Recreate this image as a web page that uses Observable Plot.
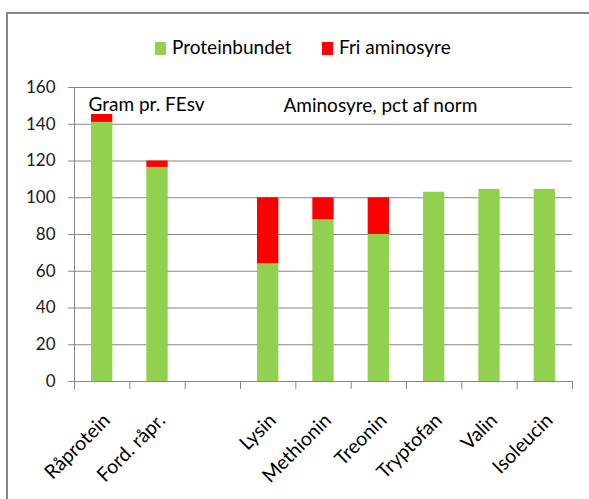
<!DOCTYPE html>
<html><head><meta charset="utf-8">
<script src="https://cdn.jsdelivr.net/npm/d3@7"></script>
<script src="https://cdn.jsdelivr.net/npm/@observablehq/plot@0.6"></script>
<style>
body{margin:0;background:#fff;font-family:Lato,sans-serif;}
#wrap{position:relative;width:589px;height:499px;overflow:hidden;background:#fff;}
#frame{position:absolute;left:6px;top:12px;width:640px;height:640px;border:2px solid #868686;box-sizing:border-box;}
#chart{position:absolute;left:0;top:0;}
#legend{position:absolute;left:0;top:36px;width:589px;font-size:19px;color:#000;font-family:Lato,sans-serif;}
.item{position:absolute;top:0;line-height:22px;white-space:nowrap;}
.sw{display:inline-block;width:11px;height:13px;margin-right:6px;vertical-align:-1px;}
</style>
</head><body>
<div id="wrap"><div id="frame"></div><div id="chart"></div><div id="legend"></div></div>
<script>
const categories = ["Råprotein","Ford. råpr.","","Lysin","Methionin","Treonin","Tryptofan","Valin","Isoleucin"];
const proteinbundet = [141,116.5,0,64,88,80,103,104.5,104.5];
const friAminosyre = [4.3,3.5,0,36,12,20,0,0,0];
const seriesNames = ["Proteinbundet","Fri aminosyre"];
const seriesColors = ["#92D050","#FF0000"];
const yTicks = [0,20,40,60,80,100,120,140,160];
const annotations = ["Gram pr. FEsv","Aminosyre, pct af norm"];

const rows = [];
categories.forEach((c,i) => {
  const g = proteinbundet[i], r = friAminosyre[i];
  if (g > 0) rows.push({i, series: seriesNames[0], y1: 0, y2: g});
  if (r > 0) rows.push({i, series: seriesNames[1], y1: g, y2: g + r});
});

const grey = "#868686";
const plot = Plot.plot({
  width: 589, height: 499,
  marginLeft: 74, marginRight: 17, marginTop: 87, marginBottom: 118,
  style: {fontFamily: "Lato, sans-serif", background: "transparent", color: "#000"},
  x: {type: "linear", domain: [0, categories.length], axis: null, label: null},
  y: {domain: [0, 160], axis: null, label: null},
  color: {domain: seriesNames, range: seriesColors},
  marks: [
    Plot.gridY(yTicks, {stroke: grey, strokeOpacity: 1, strokeWidth: 1}),
    Plot.rect(rows, {x1: "i", x2: d => d.i + 1, y1: "y1", y2: "y2", fill: "series", insetLeft: 17, insetRight: 17}),
    Plot.ruleX([0], {stroke: grey}),
    Plot.ruleY([0], {stroke: grey}),
    Plot.axisY({ticks: yTicks, tickSize: 6, stroke: grey, tickFormat: () => "", label: null}),
    Plot.axisY({ticks: yTicks, tickSize: 0, tickPadding: 19, fontSize: 17, fill: "#1a1a1a", tickFormat: d => String(d), label: null}),
    Plot.axisX({ticks: d3.range(categories.length + 1), tickSize: 8, stroke: grey, tickFormat: () => "", label: null}),
    Plot.text(categories, {x: (d, i) => i + 0.5, y: 0, text: d => d, rotate: -45, textAnchor: "end", lineAnchor: "bottom", fontSize: 19.5, dx: 9, dy: 40, fill: "#000"}),
    Plot.text([annotations[0]], {x: 0, y: 160, text: d => d, textAnchor: "start", lineAnchor: "bottom", fontSize: 19, dx: 14, dy: 23, fill: "#000"}),
    Plot.text([annotations[1]], {x: 3, y: 160, text: d => d, textAnchor: "start", lineAnchor: "bottom", fontSize: 19, dx: 43, dy: 24, fill: "#000"})
  ]
});
document.getElementById("chart").appendChild(plot);

const legend = document.getElementById("legend");
const lefts = [155, 322];
seriesNames.forEach((s, k) => {
  const it = document.createElement("div");
  it.className = "item";
  it.style.left = lefts[k] + "px";
  it.innerHTML = `<span class="sw" style="background:${seriesColors[k]}"></span>${s}`;
  legend.appendChild(it);
});
</script>
</body></html>
